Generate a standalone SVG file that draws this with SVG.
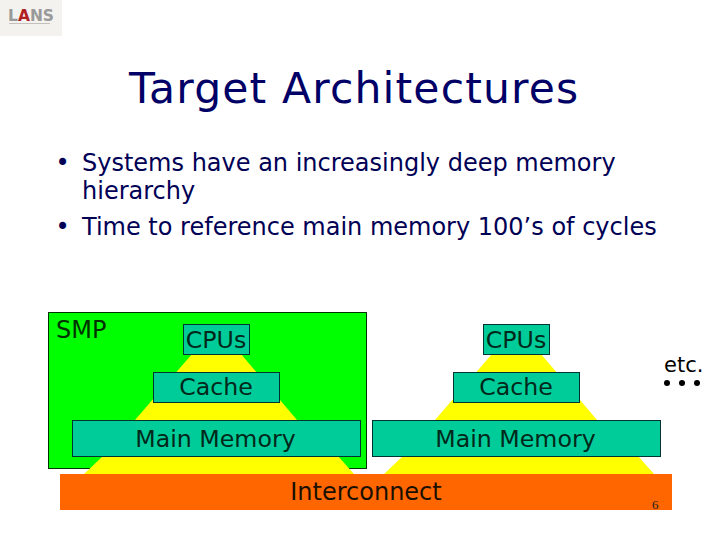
<svg xmlns="http://www.w3.org/2000/svg" width="720" height="540" viewBox="0 0 720 540">
<style>
text{font-family:"DejaVu Sans",Verdana,sans-serif;fill:#000}
.body{font-size:24px;fill:#000055}
.lbl{font-size:23.7px;text-anchor:middle;fill:#00281a}
.box{fill:#00cc99;stroke:#003333;stroke-width:1}
.pyr{fill:#ffff00}
</style>
<rect width="720" height="540" fill="#fff"/>
<g id="logo">
<rect x="0" y="0" width="62" height="36" fill="#f3f2ee"/>
<text x="8" y="21" font-size="15.5" font-weight="bold" style="fill:#999">L<tspan style="fill:#b02020">A</tspan>NS</text>
<line x1="9" y1="23.5" x2="50" y2="23.5" stroke="#c4c0bc" stroke-width="1"/>
</g>
<text x="129" y="103" font-size="42.5" letter-spacing="1.15" style="fill:#000066">Target Architectures</text>
<g id="bullets">
<text x="55.5" y="171" class="body">•</text>
<text x="82" y="170.5" class="body">Systems have an increasingly deep memory</text>
<text x="82" y="199" class="body">hierarchy</text>
<text x="55.5" y="235" class="body">•</text>
<text x="82" y="235" class="body">Time to reference main memory 100’s of cycles</text>
</g>
<g id="smp">
<rect x="48.5" y="312.5" width="318" height="156" fill="#00ff00" stroke="#003300"/>
<text x="56" y="338" class="body" style="fill:#003300">SMP</text>
</g>
<g id="pyramid-left"><polygon class="pyr" points="192,354 241,354 297,420 338,456 354,474 84,474 103,456 135,420"/></g>
<g id="pyramid-right"><polygon class="pyr" points="492,354 541,354 597,420 638,456 654,474 384,474 403,456 435,420"/></g>
<g id="cpus-left"><rect class="box" x="183.5" y="324.5" width="66" height="30"/><text x="216" y="347.5" class="lbl">CPUs</text></g>
<g id="cache-left"><rect class="box" x="153.5" y="372.5" width="126" height="30"/><text x="216" y="395" class="lbl">Cache</text></g>
<g id="memory-left"><rect class="box" x="72.5" y="420.5" width="288" height="36"/><text x="215.5" y="446.5" class="lbl">Main Memory</text></g>
<g id="cpus-right"><rect class="box" x="483.5" y="324.5" width="66" height="30"/><text x="516" y="347.5" class="lbl">CPUs</text></g>
<g id="cache-right"><rect class="box" x="453.5" y="372.5" width="126" height="30"/><text x="516" y="395" class="lbl">Cache</text></g>
<g id="memory-right"><rect class="box" x="372.5" y="420.5" width="288" height="36"/><text x="515.5" y="446.5" class="lbl">Main Memory</text></g>
<g id="interconnect"><rect x="60" y="474" width="612" height="36" fill="#ff6600"/><text x="366" y="500" class="lbl" style="font-size:24px;fill:#1a1000">Interconnect</text></g>
<g id="etc">
<text x="664" y="372" font-size="21">etc.</text>
<circle cx="667" cy="383" r="3"/><circle cx="682" cy="383" r="3"/><circle cx="697" cy="383" r="3"/>
</g>
<text x="652" y="508.5" font-size="13" style="font-family:'Liberation Serif',serif;fill:#222">6</text>
<g id="connectors"></g>
</svg>
